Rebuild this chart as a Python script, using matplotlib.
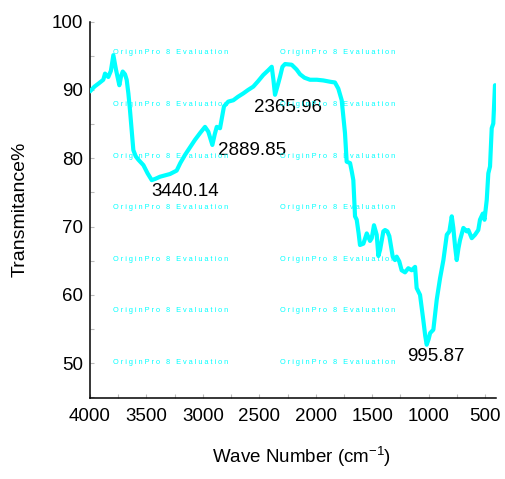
import matplotlib
matplotlib.use("Agg")
import matplotlib.pyplot as plt
from matplotlib.ticker import MultipleLocator

plt.rcParams['font.family'] = ['Liberation Sans', 'DejaVu Sans']

# FTIR spectrum
wavenumber = [4000, 3960, 3920, 3882, 3867, 3838, 3815, 3793, 3770, 3740,
              3725, 3710, 3690, 3675, 3660, 3646, 3630, 3616, 3595, 3572,
              3527, 3490, 3453, 3420, 3380, 3291, 3232, 3200, 3158, 3110,
              3070, 3020, 2981, 2952, 2916, 2895, 2877, 2848, 2830, 2813,
              2775, 2730, 2690, 2642, 2600, 2553, 2510, 2465, 2420, 2390,
              2375, 2361, 2340, 2317, 2295, 2272, 2213, 2170, 2139, 2100,
              2051, 1990, 1933, 1870, 1830, 1800, 1770, 1755, 1741, 1726,
              1696, 1680, 1667, 1652, 1637, 1620, 1608, 1578, 1548, 1519,
              1504, 1484, 1460, 1445, 1430, 1401, 1386, 1366, 1348, 1318,
              1298, 1283, 1260, 1239, 1209, 1180, 1150, 1120, 1106, 1076,
              1047, 1030, 1017, 1000, 987, 958, 928, 899, 869, 839,
              816, 795, 781, 765, 751, 736, 722, 692, 663, 648,
              618, 589, 560, 545, 520, 505, 485, 471, 456, 441,
              427, 412]
transmittance = [89.8, 90.5, 91.0, 91.5, 92.4, 91.9, 92.8, 95.1, 93.0, 90.7,
                 92.0, 92.7, 92.3, 91.5, 89.5, 87.1, 84.0, 81.2, 80.3, 79.8,
                 79.0, 77.8, 76.8, 77.0, 77.3, 77.7, 78.2, 79.3, 80.5, 81.7,
                 82.7, 83.8, 84.6, 83.9, 81.95, 83.5, 84.6, 84.4, 86.0, 87.6,
                 88.3, 88.5, 89.0, 89.5, 90.0, 90.5, 91.3, 92.2, 92.9, 93.4,
                 91.5, 89.3, 90.5, 91.9, 93.4, 93.8, 93.7, 93.0, 92.3, 91.8,
                 91.5, 91.5, 91.4, 91.2, 91.1, 90.2, 88.5, 86.0, 83.7, 79.5,
                 79.3, 78.0, 76.8, 71.5, 71.0, 69.0, 67.3, 67.5, 69.0, 67.9,
                 68.3, 70.2, 68.8, 65.7, 66.6, 69.3, 69.5, 69.3, 68.6, 65.6,
                 65.1, 65.6, 64.9, 63.6, 63.3, 63.9, 63.6, 64.1, 61.0, 60.0,
                 56.3, 54.0, 52.7, 53.5, 54.4, 54.9, 59.3, 62.4, 65.1, 68.8,
                 69.3, 71.5, 69.8, 67.0, 65.1, 66.8, 68.0, 69.8, 69.3, 69.5,
                 68.3, 68.8, 69.5, 71.0, 71.9, 71.0, 73.9, 77.8, 78.8, 84.4,
                 85.1, 90.7]

# peak labels and where they sit
peak_labels = ['3440.14', '2889.85', '2365.96', '995.87']
peak_x = [3154, 2560, 2246, 934]
peak_y = [75.2, 81.2, 87.4, 51.0]

fig = plt.figure(figsize=(5.05, 4.79), dpi=100)
ax = fig.add_axes([90 / 505, 1 - 398 / 479, 406 / 505, (398 - 21.7) / 479])

ax.plot(wavenumber, transmittance, color='#00FFFF', lw=3.0,
        solid_joinstyle='round', solid_capstyle='round', zorder=3)

for lab, px, py in zip(peak_labels, peak_x, peak_y):
    ax.text(px, py, lab, fontsize=13.5, ha='center', va='center', zorder=4)

# evaluation watermark
wm = ' '.join('OriginPro 8 Evaluation')
for row_y in [52.3, 104.3, 156, 207.5, 259.3, 311, 363]:
    for col_x in [113, 280]:
        fig.text(col_x / 505, 1 - row_y / 479, wm, fontsize=5.3,
                 color='#00FFFF', ha='left', va='center', zorder=1)

ax.set_xlim(4000, 403)
ax.set_ylim(44.9, 100)
ax.xaxis.set_major_locator(MultipleLocator(500))
ax.xaxis.set_minor_locator(MultipleLocator(250))
ax.yaxis.set_major_locator(MultipleLocator(10))
ax.yaxis.set_minor_locator(MultipleLocator(5))
ax.tick_params(which='both', direction='in', length=3, width=0.8,
               color='#bbbbbb', labelsize=13.5)
ax.tick_params(axis='x', pad=7)
ax.tick_params(axis='y', pad=5)

for s in ['top', 'right']:
    ax.spines[s].set_visible(False)
for s in ['left', 'bottom']:
    ax.spines[s].set_linewidth(1.1)

fig.text(20 / 505, 1 - 209 / 479, 'Transmitance%', rotation=90,
         fontsize=14, ha='center', va='center')
fig.text(302 / 505, 1 - 457 / 479, r'Wave Number (cm$^{\mathregular{-1}}$)',
         fontsize=13.5, ha='center', va='center')

fig.savefig('out.png', dpi=100)
